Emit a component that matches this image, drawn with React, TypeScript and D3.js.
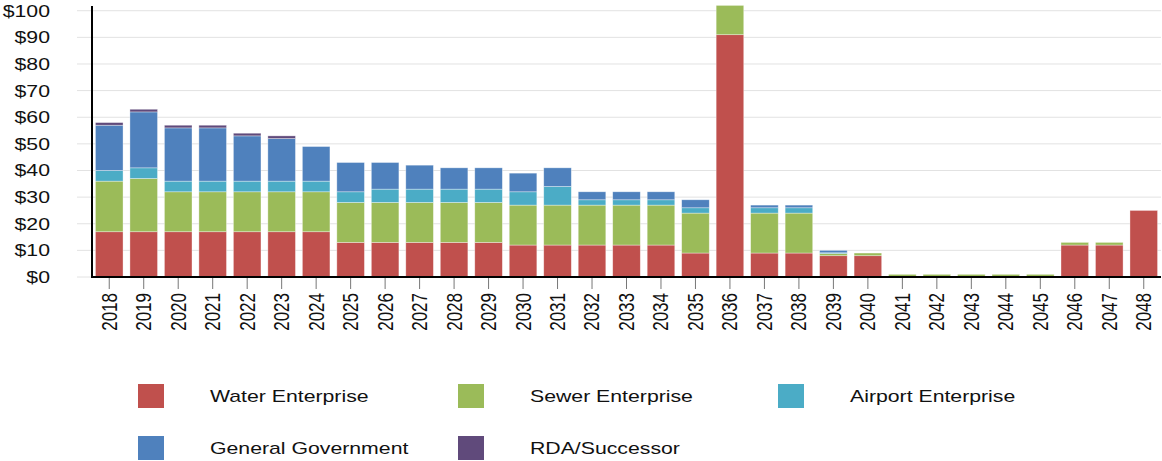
import React, { useEffect, useRef } from "react";
import * as d3 from "d3";

const years = [
  "2018", "2019", "2020", "2021", "2022", "2023", "2024", "2025", "2026", "2027",
  "2028", "2029", "2030", "2031", "2032", "2033", "2034", "2035", "2036", "2037",
  "2038", "2039", "2040", "2041", "2042", "2043", "2044", "2045", "2046", "2047", "2048",
];

const water = [17, 17, 17, 17, 17, 17, 17, 13, 13, 13, 13, 13, 12, 12, 12, 12, 12, 9, 91, 9, 9, 8, 8, 0, 0, 0, 0, 0, 12, 12, 25];
const sewer = [19, 20, 15, 15, 15, 15, 15, 15, 15, 15, 15, 15, 15, 15, 15, 15, 15, 15, 11, 15, 15, 0.8, 1, 1, 1, 1, 1, 1, 1, 1, 0];
const airport = [4, 4, 4, 4, 4, 4, 4, 4, 5, 5, 5, 5, 5, 7, 2, 2, 2, 2, 0, 2, 2, 0.3, 0, 0, 0, 0, 0, 0, 0, 0, 0];
const general = [17, 21, 20, 20, 17, 16, 13, 11, 10, 9, 8, 8, 7, 7, 3, 3, 3, 3, 0, 1, 1, 0.9, 0, 0, 0, 0, 0, 0, 0, 0, 0];
const rda = [1, 1, 1, 1, 1, 1, 0, 0, 0, 0, 0, 0, 0, 0, 0, 0, 0, 0, 0, 0, 0, 0, 0, 0, 0, 0, 0, 0, 0, 0, 0];

const seriesNames = ["Water Enterprise", "Sewer Enterprise", "Airport Enterprise", "General Government", "RDA/Successor"];
const seriesColors = ["#C0504D", "#9BBB59", "#4BACC6", "#4F81BD", "#604A7B"];
const yTicks = [0, 10, 20, 30, 40, 50, 60, 70, 80, 90, 100];

const font = "'Liberation Sans', Arial, sans-serif";
// the reference text is drawn a bit wider than it is tall
const stretch = 1.25;

function Chart() {
  const svgRef = useRef<SVGSVGElement>(null);

  useEffect(() => {
    const svg = d3.select(svgRef.current);
    svg.selectAll("*").remove();

    const left = 92, right = 1161, top = 5.4, bottom = 277;

    const rows = years.map((y, i) => ({
      year: y,
      s0: water[i], s1: sewer[i], s2: airport[i], s3: general[i], s4: rda[i],
    }));
    const keys = ["s0", "s1", "s2", "s3", "s4"];
    const stacked = d3.stack<any>().keys(keys)(rows);

    const x = d3.scaleBand().domain(years).range([left, right]).paddingInner(0.2).paddingOuter(0.1);
    const y = d3.scaleLinear().domain([0, 102]).range([bottom, top]);

    // grid + y ticks
    svg.append("g")
      .selectAll("line")
      .data(yTicks)
      .enter()
      .append("line")
      .attr("x1", 77)
      .attr("x2", right)
      .attr("y1", d => y(d))
      .attr("y2", d => y(d))
      .attr("stroke", "#e2e2e2")
      .attr("stroke-width", 1);

    svg.append("g")
      .selectAll("text")
      .data(yTicks)
      .enter()
      .append("text")
      .attr("transform", d => `translate(50, ${y(d)}) scale(${stretch}, 1)`)
      .attr("dy", "0.35em")
      .attr("text-anchor", "end")
      .style("font-family", font)
      .style("font-size", "17px")
      .attr("fill", "#111")
      .text(d => "$" + d);

    // bars
    svg.append("g")
      .selectAll("g")
      .data(stacked)
      .enter()
      .append("g")
      .attr("fill", (d, i) => seriesColors[i])
      .selectAll("rect")
      .data(d => d)
      .enter()
      .append("rect")
      .attr("x", d => x(d.data.year)!)
      .attr("width", x.bandwidth())
      .attr("y", d => y(d[1]))
      .attr("height", d => Math.max(0, y(d[0]) - y(d[1])))
      .attr("stroke", "rgba(255,255,255,0.5)")
      .attr("stroke-width", 0.7);

    // x ticks
    svg.append("g")
      .selectAll("line")
      .data(years)
      .enter()
      .append("line")
      .attr("x1", d => x(d)! + x.bandwidth() / 2)
      .attr("x2", d => x(d)! + x.bandwidth() / 2)
      .attr("y1", bottom)
      .attr("y2", 289)
      .attr("stroke", "#777")
      .attr("stroke-width", 1);

    svg.append("g")
      .selectAll("text")
      .data(years)
      .enter()
      .append("text")
      .attr("transform", d => `translate(${x(d)! + x.bandwidth() / 2}, 293) scale(${stretch}, 1) rotate(-90)`)
      .attr("dy", "0.35em")
      .attr("text-anchor", "end")
      .style("font-family", font)
      .style("font-size", "17px")
      .attr("fill", "#111")
      .text(d => d);

    // axis lines
    svg.append("line")
      .attr("x1", left).attr("x2", left)
      .attr("y1", 6).attr("y2", bottom + 1)
      .attr("stroke", "#000").attr("stroke-width", 2);
    svg.append("line")
      .attr("x1", left - 1).attr("x2", right)
      .attr("y1", bottom).attr("y2", bottom)
      .attr("stroke", "#000").attr("stroke-width", 2);

    // legend
    const legendPos = [
      { x: 138, y: 384 }, { x: 458, y: 384 }, { x: 778, y: 384 },
      { x: 138, y: 436 }, { x: 458, y: 436 },
    ];
    const lg = svg.append("g")
      .selectAll("g")
      .data(seriesNames)
      .enter()
      .append("g")
      .attr("transform", (d, i) => `translate(${legendPos[i].x}, ${legendPos[i].y})`);
    lg.append("rect")
      .attr("width", 26)
      .attr("height", 24)
      .attr("fill", (d, i) => seriesColors[i]);
    lg.append("text")
      .attr("transform", `translate(72, 12) scale(${stretch}, 1)`)
      .attr("dy", "0.35em")
      .style("font-family", font)
      .style("font-size", "17px")
      .attr("fill", "#111")
      .text(d => d);
  }, []);

  return (
    <svg ref={svgRef} width="1162" height="461" style={{ position: "absolute", left: 0, top: 0 }}></svg>
  );
}

export default function App() {
  return <Chart />;
}
